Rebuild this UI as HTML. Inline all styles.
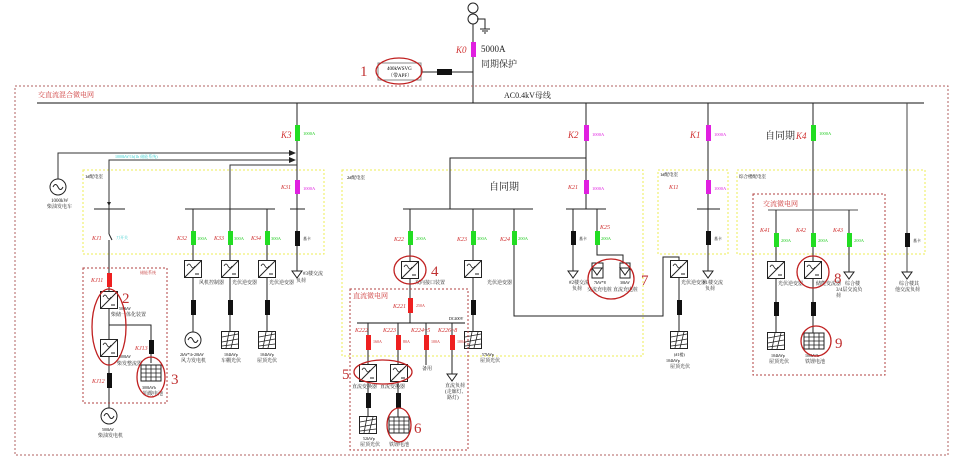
<!DOCTYPE html>
<html><head><meta charset="utf-8">
<style>
html,body{margin:0;padding:0;background:#fff;}
svg{display:block;font-family:"Liberation Serif","Noto Serif CJK SC","Noto Sans CJK SC",serif;}
.s{font-size:5px;fill:#222;}
.g{font-size:4.5px;fill:#22cc22;}
.p{font-size:4.5px;fill:#e020e0;}
.k{font-size:9px;fill:#d03030;font-style:italic;}
.ks{font-size:6px;fill:#d03030;font-style:italic;}
.n{font-size:15px;fill:#c03030;}
</style></head><body>
<svg width="962" height="464" viewBox="0 0 962 464" xmlns="http://www.w3.org/2000/svg">
<defs>
<g id="conv"><rect x="-8.5" y="-8.5" width="17" height="17" fill="#fff" stroke="#222" stroke-width="1"/><line x1="-8.5" y1="8.5" x2="8.5" y2="-8.5" stroke="#222"/><path d="M-6,-3 q2,-4 4,0 t4,0" fill="none" stroke="#222" stroke-width="0.8"/><line x1="2" y1="5" x2="6" y2="5" stroke="#222"/></g>
<g id="pv"><rect x="-8.5" y="-8.5" width="17" height="17" fill="#fff" stroke="#222"/><path d="M-8,-3 L8,-6 M-8,2 L8,-1 M-8,6 L8,4 M-4,8 L-1,-8 M1,8 L5,-8" stroke="#222" stroke-width="0.8" fill="none"/></g>
<g id="bat"><rect x="-10" y="-8" width="20" height="16" fill="#fff" stroke="#222"/><path d="M-10,-4H10M-10,0H10M-10,4H10M-5,-8V8M0,-8V8M5,-8V8" stroke="#222" stroke-width="0.8"/></g>
<g id="gen"><circle r="8" fill="#fff" stroke="#222"/><path d="M-5,0 q2.5,-5 5,0 t5,0" fill="none" stroke="#222"/></g>
<g id="load"><path d="M-5,0 L5,0 L0,7 Z" fill="#fff" stroke="#222"/></g>
</defs>

<!-- top -->
<circle cx="473" cy="8" r="5" fill="none" stroke="#222"/><circle cx="473" cy="19" r="5" fill="none" stroke="#222"/>
<path d="M477,19 H485 V29 M480,29 H490 M482,31 H488 M484,33 H486" stroke="#222" fill="none"/>
<line x1="473" y1="24" x2="473" y2="103" stroke="#222"/>
<rect x="471" y="42" width="5" height="15" fill="#e020e0"/>
<text x="456" y="53" class="k">K0</text>
<text x="481" y="52" style="font-size:9px;fill:#222">5000A</text>
<text x="481" y="67" style="font-size:9px;fill:#222">同期保护</text>
<line x1="421" y1="72" x2="473" y2="72" stroke="#222"/>
<rect x="437" y="69" width="15" height="6" fill="#111"/>
<rect x="378" y="63" width="43" height="17" fill="#fff" stroke="#888"/>
<text x="387" y="70" style="font-size:5px">400kWSVG</text><text x="388" y="77" style="font-size:5px">（带APF）</text>
<ellipse cx="399" cy="71" rx="23" ry="13" fill="none" stroke="#c02020" stroke-width="1.3"/>
<text x="360" y="76" class="n">1</text>

<!-- outer -->
<rect x="15" y="86" width="933" height="369" fill="none" stroke="#b06060" stroke-dasharray="2,2"/>
<text x="38" y="97" style="font-size:7px;fill:#d04040">交直流混合微电网</text>
<line x1="37" y1="103" x2="924" y2="103" stroke="#111" stroke-width="1"/>
<text x="504" y="98" style="font-size:8px;fill:#222">AC0.4kV母线</text>

<!-- yellow boxes -->
<g fill="none" stroke="#eeee55" stroke-dasharray="2,2">
<rect x="83" y="170" width="241" height="84"/>
<rect x="342" y="170" width="301" height="186"/>
<rect x="658" y="170" width="70" height="84"/>
<rect x="737" y="170" width="188" height="84"/>
</g>
<text x="85" y="178" style="font-size:4.5px">1#配电室</text>
<text x="347" y="179" style="font-size:4.5px">2#配电室</text>
<text x="660" y="176" style="font-size:4.5px">1#配电室</text>
<text x="739" y="178" style="font-size:4.5px">综合楼配电室</text>
<text x="489" y="190" style="font-size:10px;fill:#222">自同期</text>
<text x="765" y="139" style="font-size:10px;fill:#222">自同期</text>

<!-- K3 branch -->
<line x1="297" y1="103" x2="297" y2="272" stroke="#222"/>
<rect x="295" y="125" width="5" height="16" fill="#22dd22"/><text x="281" y="138" class="k">K3</text><text x="303" y="135" class="g">1000A</text>
<rect x="295" y="180" width="5" height="14" fill="#e020e0"/><text x="281" y="189" class="ks">K31</text><text x="303" y="190" class="p">1000A</text>
<path d="M58,179 V153 H295 M109,209 V160 H295 M230,209 V165 H297" stroke="#333" fill="none"/>
<path d="M289,150 L296,153 L289,156Z M289,157 L296,160 L289,163Z" fill="#222"/>
<text x="115" y="158" style="font-size:4px;fill:#33cccc">1000kW/1h(1h 储能系统)</text>
<use href="#gen" x="58" y="187"/><text x="51" y="202" class="s">1000kW</text><text x="47" y="208" class="s">柴油发电车</text>
<line x1="290" y1="209" x2="305" y2="209" stroke="#222"/>
<line x1="94" y1="209" x2="125" y2="209" stroke="#222"/>
<line x1="185" y1="209" x2="275" y2="209" stroke="#222"/>
<rect x="295" y="231" width="5" height="15" fill="#111"/><text x="303" y="240" style="font-size:4px">基卡</text>
<use href="#load" x="297" y="271"/><text x="303" y="275" class="s">#3楼交流</text><text x="296" y="282" class="s">负荷</text>

<!-- left storage -->
<line x1="109" y1="209" x2="109" y2="410" stroke="#222"/>
<path d="M107,202 L111,202 L109,206Z" fill="#222"/>
<rect x="107" y="234" width="4" height="6" fill="#fff"/><path d="M109,234 L112,240" stroke="#222"/>
<text x="92" y="240" class="ks">KJ1</text><text x="116" y="239" style="font-size:4px;fill:#33cccc">刀开关</text>
<rect x="83" y="268" width="84" height="135" fill="none" stroke="#b04040" stroke-dasharray="2,2"/>
<text x="140" y="274" style="font-size:4px;fill:#c03030">储能系统</text>
<rect x="107" y="273" width="5" height="14" fill="#ee2020"/><text x="91" y="282" class="ks">KJ11</text>
<use href="#conv" x="109" y="300"/><text x="119" y="310" style="font-size:4px">500kW</text><text x="111" y="316" class="s">柴储一体化装置</text>
<path d="M109,325 H151 V363" stroke="#222" fill="none"/>
<use href="#conv" x="109" y="348"/><text x="119" y="358" style="font-size:4px">500kW</text><text x="117" y="365" class="s">柴发整流器</text>
<rect x="149" y="340" width="5" height="14" fill="#111"/><text x="135" y="350" class="ks">KJ13</text>
<use href="#bat" x="151" y="373"/><text x="142" y="389" style="font-size:4px">300kWh</text><text x="143" y="395" class="s">铅酸电池</text>
<rect x="107" y="373" width="5" height="15" fill="#111"/><text x="92" y="383" class="ks">KJ12</text>
<use href="#gen" x="109" y="416"/><text x="102" y="431" style="font-size:4px">500kW</text><text x="98" y="437" class="s">柴油发电机</text>
<ellipse cx="109" cy="327" rx="17" ry="38" fill="none" stroke="#c02020" stroke-width="1.3"/>
<text x="122" y="303" class="n">2</text>
<ellipse cx="151" cy="377" rx="14" ry="20" fill="none" stroke="#c02020" stroke-width="1.3"/>
<text x="171" y="384" class="n">3</text>

<!-- K32-K34 -->
<g stroke="#222"><line x1="193" y1="209" x2="193" y2="332"/><line x1="230" y1="209" x2="230" y2="332"/><line x1="267" y1="209" x2="267" y2="332"/></g>
<rect x="191" y="231" width="5" height="14" fill="#22dd22"/><rect x="228" y="231" width="5" height="14" fill="#22dd22"/><rect x="265" y="231" width="5" height="14" fill="#22dd22"/>
<text x="177" y="240" class="ks">K32</text><text x="214" y="240" class="ks">K33</text><text x="251" y="240" class="ks">K34</text>
<text x="197" y="240" class="g">100A</text><text x="234" y="240" class="g">300A</text><text x="271" y="240" class="g">300A</text>
<use href="#conv" x="193" y="269"/><use href="#conv" x="230" y="269"/><use href="#conv" x="267" y="269"/>
<text x="199" y="284" class="s">风机控制器</text><text x="232" y="284" class="s">光伏逆变器</text><text x="269" y="284" class="s">光伏逆变器</text>
<rect x="191" y="300" width="5" height="15" fill="#111"/><rect x="228" y="300" width="5" height="15" fill="#111"/><rect x="265" y="300" width="5" height="15" fill="#111"/>
<use href="#gen" x="193" y="340"/><use href="#pv" x="230" y="340"/><use href="#pv" x="267" y="340"/>
<text x="180" y="356" style="font-size:4px">2kW*4+20kW</text><text x="181" y="362" class="s">风力发电机</text>
<text x="224" y="356" style="font-size:4px">104kWp</text><text x="221" y="362" class="s">车棚光伏</text>
<text x="260" y="356" style="font-size:4px">104kWp</text><text x="257" y="362" class="s">屋顶光伏</text>

<!-- K2 -->
<line x1="586" y1="103" x2="586" y2="209" stroke="#222"/>
<rect x="584" y="125" width="5" height="16" fill="#e020e0"/><text x="568" y="138" class="k">K2</text><text x="592" y="136" class="p">1000A</text>
<rect x="584" y="180" width="5" height="14" fill="#e020e0"/><text x="568" y="189" class="ks">K21</text><text x="592" y="190" class="p">1000A</text>
<path d="M586,158 H450 V209" stroke="#222" fill="none"/>
<line x1="403" y1="209" x2="533" y2="209" stroke="#222"/>
<line x1="566" y1="209" x2="606" y2="209" stroke="#222"/>
<g stroke="#222"><line x1="410" y1="209" x2="410" y2="323"/><line x1="473" y1="209" x2="473" y2="332"/><path d="M514,209 V316 H663 V257 H679 V332" fill="none"/><line x1="573" y1="209" x2="573" y2="272"/><path d="M597,209 V255 H623 V264" fill="none"/><line x1="708" y1="103" x2="708" y2="272"/></g>
<rect x="408" y="231" width="5" height="14" fill="#22dd22"/><text x="394" y="241" class="ks">K22</text><text x="416" y="240" class="g">200A</text>
<rect x="471" y="231" width="5" height="14" fill="#22dd22"/><text x="457" y="241" class="ks">K23</text><text x="477" y="240" class="g">300A</text>
<rect x="512" y="231" width="5" height="14" fill="#22dd22"/><text x="500" y="241" class="ks">K24</text><text x="518" y="240" class="g">200A</text>
<rect x="571" y="231" width="5" height="14" fill="#111"/><text x="579" y="240" style="font-size:4px">基卡</text>
<rect x="595" y="231" width="5" height="14" fill="#22dd22"/><text x="601" y="240" class="g">200A</text><text x="600" y="229" class="ks">K25</text>
<use href="#conv" x="410" y="270"/><text x="415" y="284" class="s">双向接口装置</text>
<ellipse cx="410" cy="270" rx="16" ry="14" fill="none" stroke="#c02020" stroke-width="1.3"/><text x="431" y="276" class="n">4</text>
<use href="#conv" x="473" y="269"/><text x="487" y="284" class="s">光伏逆变器</text>
<rect x="471" y="300" width="5" height="15" fill="#111"/><use href="#pv" x="473" y="340"/><text x="482" y="356" style="font-size:4px">57kWp</text><text x="480" y="362" class="s">屋顶光伏</text>
<use href="#load" x="573" y="271"/><text x="569" y="284" class="s">#2楼交流</text><text x="572" y="290" class="s">负荷</text>
<rect x="592" y="263" width="11" height="15" fill="#fff" stroke="#222"/><use href="#load" x="597" y="268"/>
<rect x="620" y="263" width="10" height="15" fill="#fff" stroke="#222"/><use href="#load" x="625" y="268"/>
<text x="594" y="284" style="font-size:4px">7kW*8</text><text x="620" y="284" style="font-size:4px">30kW</text>
<text x="587" y="291" class="s">交流充电桩</text><text x="613" y="291" class="s">直流充电桩</text>
<ellipse cx="611" cy="279" rx="23" ry="20" fill="none" stroke="#c02020" stroke-width="1.3"/><text x="641" y="285" class="n">7</text>
<use href="#conv" x="679" y="269"/><text x="681" y="284" class="s">光伏逆变器</text>
<rect x="677" y="300" width="5" height="15" fill="#111"/><use href="#pv" x="679" y="340"/>
<text x="674" y="356" style="font-size:4px">(#1楼)</text><text x="666" y="362" style="font-size:4px">104kWp</text><text x="670" y="368" class="s">屋顶光伏</text>

<!-- DC microgrid -->
<rect x="350" y="289" width="118" height="161" fill="none" stroke="#b04040" stroke-dasharray="2,2"/>
<text x="353" y="298" style="font-size:7px;fill:#d04040">直流微电网</text>
<rect x="408" y="298" width="5" height="15" fill="#ee2020"/><text x="393" y="308" class="ks">K221</text><text x="416" y="307" style="font-size:4px;fill:#d03030">250A</text>
<line x1="357" y1="323" x2="465" y2="323" stroke="#111"/><text x="449" y="320" style="font-size:4px">DC400V</text>
<g stroke="#222"><line x1="368" y1="323" x2="368" y2="418"/><line x1="398" y1="323" x2="398" y2="418"/><line x1="426" y1="323" x2="426" y2="365"/><line x1="452" y1="323" x2="452" y2="374"/></g>
<g fill="#ee2020"><rect x="366" y="335" width="5" height="15"/><rect x="396" y="335" width="5" height="15"/><rect x="424" y="335" width="5" height="15"/><rect x="450" y="335" width="5" height="15"/></g>
<text x="355" y="332" class="ks">K222</text><text x="383" y="332" class="ks">K223</text><text x="411" y="332" class="ks">K224~5</text><text x="438" y="332" class="ks">K226~8</text>
<text x="373" y="343" style="font-size:4px;fill:#d03030">160A</text><text x="403" y="343" style="font-size:4px;fill:#d03030">80A</text><text x="431" y="343" style="font-size:4px;fill:#d03030">100A</text><text x="457" y="343" style="font-size:4px;fill:#d03030">100A</text>
<use href="#conv" x="368" y="373"/><use href="#conv" x="399" y="373"/>
<text x="422" y="370" class="s">备用</text>
<use href="#load" x="452" y="374"/><text x="445" y="387" class="s">直流负荷</text><text x="445" y="393" class="s">(走廊灯、</text><text x="447" y="399" class="s">路灯)</text>
<text x="352" y="388" class="s">直流变换器</text><text x="380" y="388" class="s">直流变换器</text>
<ellipse cx="383" cy="372" rx="29" ry="12" fill="none" stroke="#c02020" stroke-width="1.3"/><text x="342" y="379" class="n">5</text>
<rect x="366" y="393" width="5" height="15" fill="#111"/><rect x="396" y="393" width="5" height="15" fill="#111"/>
<use href="#pv" x="368" y="425"/><use href="#bat" x="399" y="425"/>
<text x="363" y="440" style="font-size:4px">52kWp</text><text x="360" y="446" class="s">屋顶光伏</text><text x="389" y="446" class="s">铁锂电池</text>
<ellipse cx="399" cy="425" rx="12" ry="17" fill="none" stroke="#c02020" stroke-width="1.3"/><text x="414" y="433" class="n">6</text>

<!-- K1 -->
<rect x="706" y="125" width="5" height="16" fill="#e020e0"/><text x="690" y="138" class="k">K1</text><text x="714" y="136" class="p">1000A</text>
<rect x="706" y="180" width="5" height="14" fill="#e020e0"/><text x="669" y="189" class="ks">K11</text><text x="714" y="190" class="p">1000A</text>
<line x1="697" y1="209" x2="720" y2="209" stroke="#222"/>
<rect x="706" y="231" width="5" height="14" fill="#111"/><text x="714" y="240" style="font-size:4px">基卡</text>
<use href="#load" x="708" y="271"/><text x="703" y="284" class="s">#1楼交流</text><text x="705" y="290" class="s">负荷</text>

<!-- K4 -->
<line x1="813" y1="103" x2="813" y2="333" stroke="#222"/>
<rect x="811" y="125" width="5" height="16" fill="#22dd22"/><text x="796" y="139" class="k">K4</text><text x="819" y="135" class="g">1000A</text>
<rect x="753" y="194" width="132" height="181" fill="none" stroke="#b04040" stroke-dasharray="2,2"/>
<text x="763" y="206" style="font-size:7px;fill:#d04040">交流微电网</text>
<line x1="768" y1="210" x2="858" y2="210" stroke="#777" stroke-width="1.3"/>
<g stroke="#222"><line x1="776" y1="210" x2="776" y2="333"/><line x1="849" y1="210" x2="849" y2="272"/></g>
<g fill="#22dd22"><rect x="774" y="233" width="5" height="14"/><rect x="811" y="233" width="5" height="14"/><rect x="847" y="233" width="5" height="14"/></g>
<text x="760" y="232" class="ks">K41</text><text x="796" y="232" class="ks">K42</text><text x="833" y="232" class="ks">K43</text>
<text x="781" y="242" class="g">200A</text><text x="818" y="242" class="g">200A</text><text x="854" y="242" class="g">200A</text>
<use href="#conv" x="776" y="270"/><use href="#conv" x="813" y="270"/>
<text x="778" y="285" class="s">光伏逆变器</text><text x="816" y="285" class="s">储能变流器</text>
<use href="#load" x="849" y="272"/><text x="845" y="285" class="s">综合楼</text><text x="836" y="291" class="s">3/4层交流负</text><text x="836" y="297" class="s">荷</text>
<ellipse cx="813" cy="272" rx="16" ry="16" fill="none" stroke="#c02020" stroke-width="1.3"/><text x="834" y="283" class="n">8</text>
<rect x="774" y="302" width="5" height="14" fill="#111"/><rect x="811" y="302" width="5" height="14" fill="#111"/>
<use href="#pv" x="776" y="341"/><use href="#bat" x="814" y="341"/>
<text x="771" y="357" style="font-size:4px">104kWp</text><text x="769" y="363" class="s">屋顶光伏</text>
<text x="805" y="357" style="font-size:4px">100kWh</text><text x="805" y="363" class="s">铁锂电池</text>
<ellipse cx="816" cy="341" rx="15" ry="15" fill="none" stroke="#c02020" stroke-width="1.3"/><text x="835" y="348" class="n">9</text>

<!-- K5 far right -->
<line x1="907" y1="103" x2="907" y2="272" stroke="#444"/>
<rect x="905" y="233" width="5" height="14" fill="#111"/><text x="913" y="242" style="font-size:4px">基卡</text>
<use href="#load" x="907" y="272"/><text x="899" y="285" class="s">综合楼其</text><text x="895" y="291" class="s">他交流负荷</text>
</svg>
</body></html>
